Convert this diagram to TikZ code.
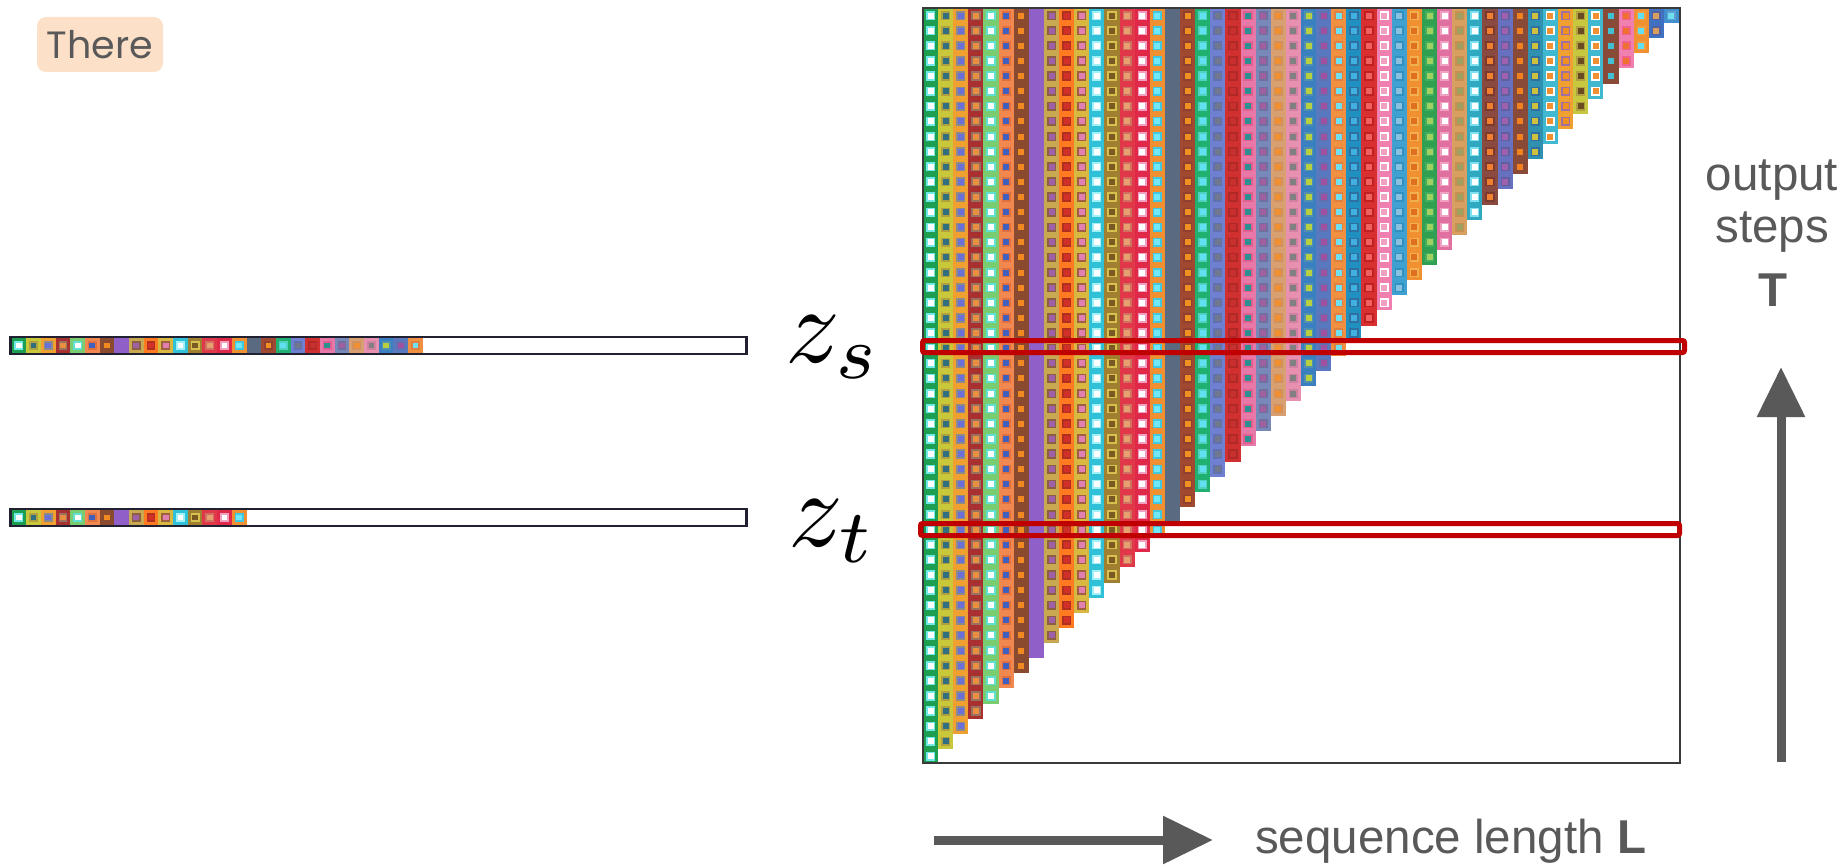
\documentclass[tikz,border=0pt]{standalone}
\usepackage{graphicx}
\usepackage{fontspec}
\setsansfont{Liberation Sans}
\newfontfamily\badgefont{Poppins}
\usetikzlibrary{arrows.meta}
\definecolor{txtgray}{HTML}{595959}
\definecolor{boxred}{HTML}{C00000}
\definecolor{peach}{HTML}{FDE0C8}
\definecolor{framegray}{HTML}{3A3A3A}
\definecolor{barframe}{HTML}{202030}
\tikzset{
  lbl/.style={text=txtgray, inner sep=0pt, font=\sffamily\fontsize{47.5}{55}\selectfont},
  zlbl/.style={inner sep=0pt},
  bigarrow/.style={draw=txtgray, line width=9pt, -{Triangle[length=50pt,width=46pt]}},
  redbox/.style={draw=boxred, line width=5pt, rounded corners=2pt},
  badge/.style={fill=peach, text=txtgray, rounded corners=9pt, minimum width=126pt, minimum height=55pt, inner sep=0pt, font=\badgefont\fontsize{38}{40}\selectfont}
}
\begin{document}
\begin{tikzpicture}[x=1pt,y=-1pt]
\useasboundingbox (0,0) rectangle (1847,867);
\fill[white] (0,0) rectangle (1847,867);
\def\s{15.12}
\def\bw{14.69}
\foreach \k/\b/\r/\i in {
0/1E9E50/6FE8E8/FFFFFF, 1/C8C83A/B0A040/2F6F80, 2/F0A030/8A8A8A/6A70D8, 3/A83030/9A7060/E89040,
4/7ACC70/60E0D0/FFFFFF, 5/F08850/E07040/4060C0, 6/8A4A30/8A4A30/F08A20, 7/9060C8/9060C8/9060C8,
8/C8A850/8A6040/A060A8, 9/FF7A20/B03020/D03028, 10/D8B840/A06040/E080B0, 11/30C0D8/A0F0F8/FFFFFF,
12/A08030/D8C050/7A5A20, 13/E03848/D07060/E8A070, 14/E02848/F0A0C0/FFFFFF, 15/F09030/40C8E0/70E8F8,
16/5A6A80/5A6A80/5A6A80, 17/A04830/904030/F09020, 18/20B070/50D0C0/60E0F0, 19/7080D0/6070B0/707890,
20/D03030/B02828/C83030, 21/E878A8/E06090/2A9090, 22/7888B8/7070A0/A060A0, 23/D8A070/D09060/F09030,
24/E890B0/D080A0/808080, 25/3A80C0/5090B0/B8D040, 26/5878C0/6070B0/A050A0, 27/F09040/E08040/70E0F0,
28/2090C0/3070A0/40B0E0, 29/D83030/C02020/F06060, 30/F080B0/FFFFFF/F0A0C0, 31/40A0D0/3090C0/8AC0E0,
32/F09030/F0B050/E07020, 33/30A050/40B060/A0D060, 34/E070A0/F0A0C0/FFFFFF, 35/D8A060/C89050/A0A060,
36/30A8C0/80E0F0/FFFFFF, 37/8A4A40/7A3A30/F08030, 38/6870C0/6060A0/A060B0, 39/8A4A38/8A4A38/F08020,
40/3090B0/3070A0/D0C040, 41/40B8D0/FFFFFF/F09030, 42/F0A030/A070A0/F09020, 43/C8C840/B0A040/6A4A20,
44/40B8D0/FFFFFF/F09030, 45/8A4A38/8A4A38/40C0D0, 46/F080B0/F06090/F07030, 47/F09030/F0A040/60E0F0,
48/4070C0/5060A0/D8A060, 49/4090D0/60A0D0/70E0F0}{
  \definecolor{cb}{HTML}{\b}\definecolor{cr}{HTML}{\r}\definecolor{ci}{HTML}{\i}
  \pgfmathsetmacro\xl{923+\k*\s}
  \pgfmathsetmacro\xc{\xl+\s/2}
  \pgfmathtruncatemacro\n{49-\k}
  \fill[cb] (\xl,8) rectangle ({\xl+\s},{8+(\n+1)*\s});
  \foreach \rr in {0,...,\n}{
    \fill[cr] ({\xc-4.6},{8+(\rr+0.5)*\s-4.6}) rectangle +(9.2,9.2);
    \fill[ci] ({\xc-3},{8+(\rr+0.5)*\s-3}) rectangle +(6,6);
  }
  \pgfmathsetmacro\bl{11.5+\k*\bw}
  \pgfmathsetmacro\bc{\bl+\bw/2}
  \ifnum\k<28
    \fill[cb] (\bl,338.4) rectangle ({\bl+\bw},352.6);
    \fill[cr] ({\bc-4.4},341.1) rectangle +(8.8,8.8);
    \fill[ci] ({\bc-2.9},342.6) rectangle +(5.8,5.8);
  \fi
  \ifnum\k<16
    \fill[cb] (\bl,510.4) rectangle ({\bl+\bw},524.6);
    \fill[cr] ({\bc-4.4},513.1) rectangle +(8.8,8.8);
    \fill[ci] ({\bc-2.9},514.6) rectangle +(5.8,5.8);
  \fi
}
% frames
\draw[framegray, line width=2.5pt] (923,8) rectangle (1680,763);
\draw[barframe, line width=2.5pt] (10.5,337.2) rectangle (746.5,353.8);
\draw[barframe, line width=2.5pt] (10.5,509.2) rectangle (746.5,525.8);
% red highlight rows
\draw[redbox] (922.5,340.5) rectangle (1684.5,352.5);
\draw[redbox] (920.5,523.5) rectangle (1679.5,535.5);
% labels
\node[zlbl, anchor=base east] (zs) at (882,362) {\scalebox{10.8}{$z_s$}};
\node[zlbl, anchor=base east] (zt) at (877,546) {\scalebox{10.8}{$z_t$}};
\node[badge] (there) at (100,44.5) {There};
% axes
\coordinate (upS) at (1781,762);
\coordinate (upE) at (1781,367);
\draw[bigarrow] (upS) -- (upE);
\coordinate (rtS) at (934,840);
\coordinate (rtE) at (1213,840);
\draw[bigarrow] (rtS) -- (rtE);
\node[lbl, anchor=base] (out1) at (1772,190) {output};
\node[lbl, anchor=base] (out2) at (1772,242) {steps};
\node[lbl, anchor=base] (out3) at (1773,306) {\textbf{T}};
\node[lbl, anchor=base west] (seq) at (1255,853) {sequence length \textbf{L}};
\end{tikzpicture}
\end{document}
